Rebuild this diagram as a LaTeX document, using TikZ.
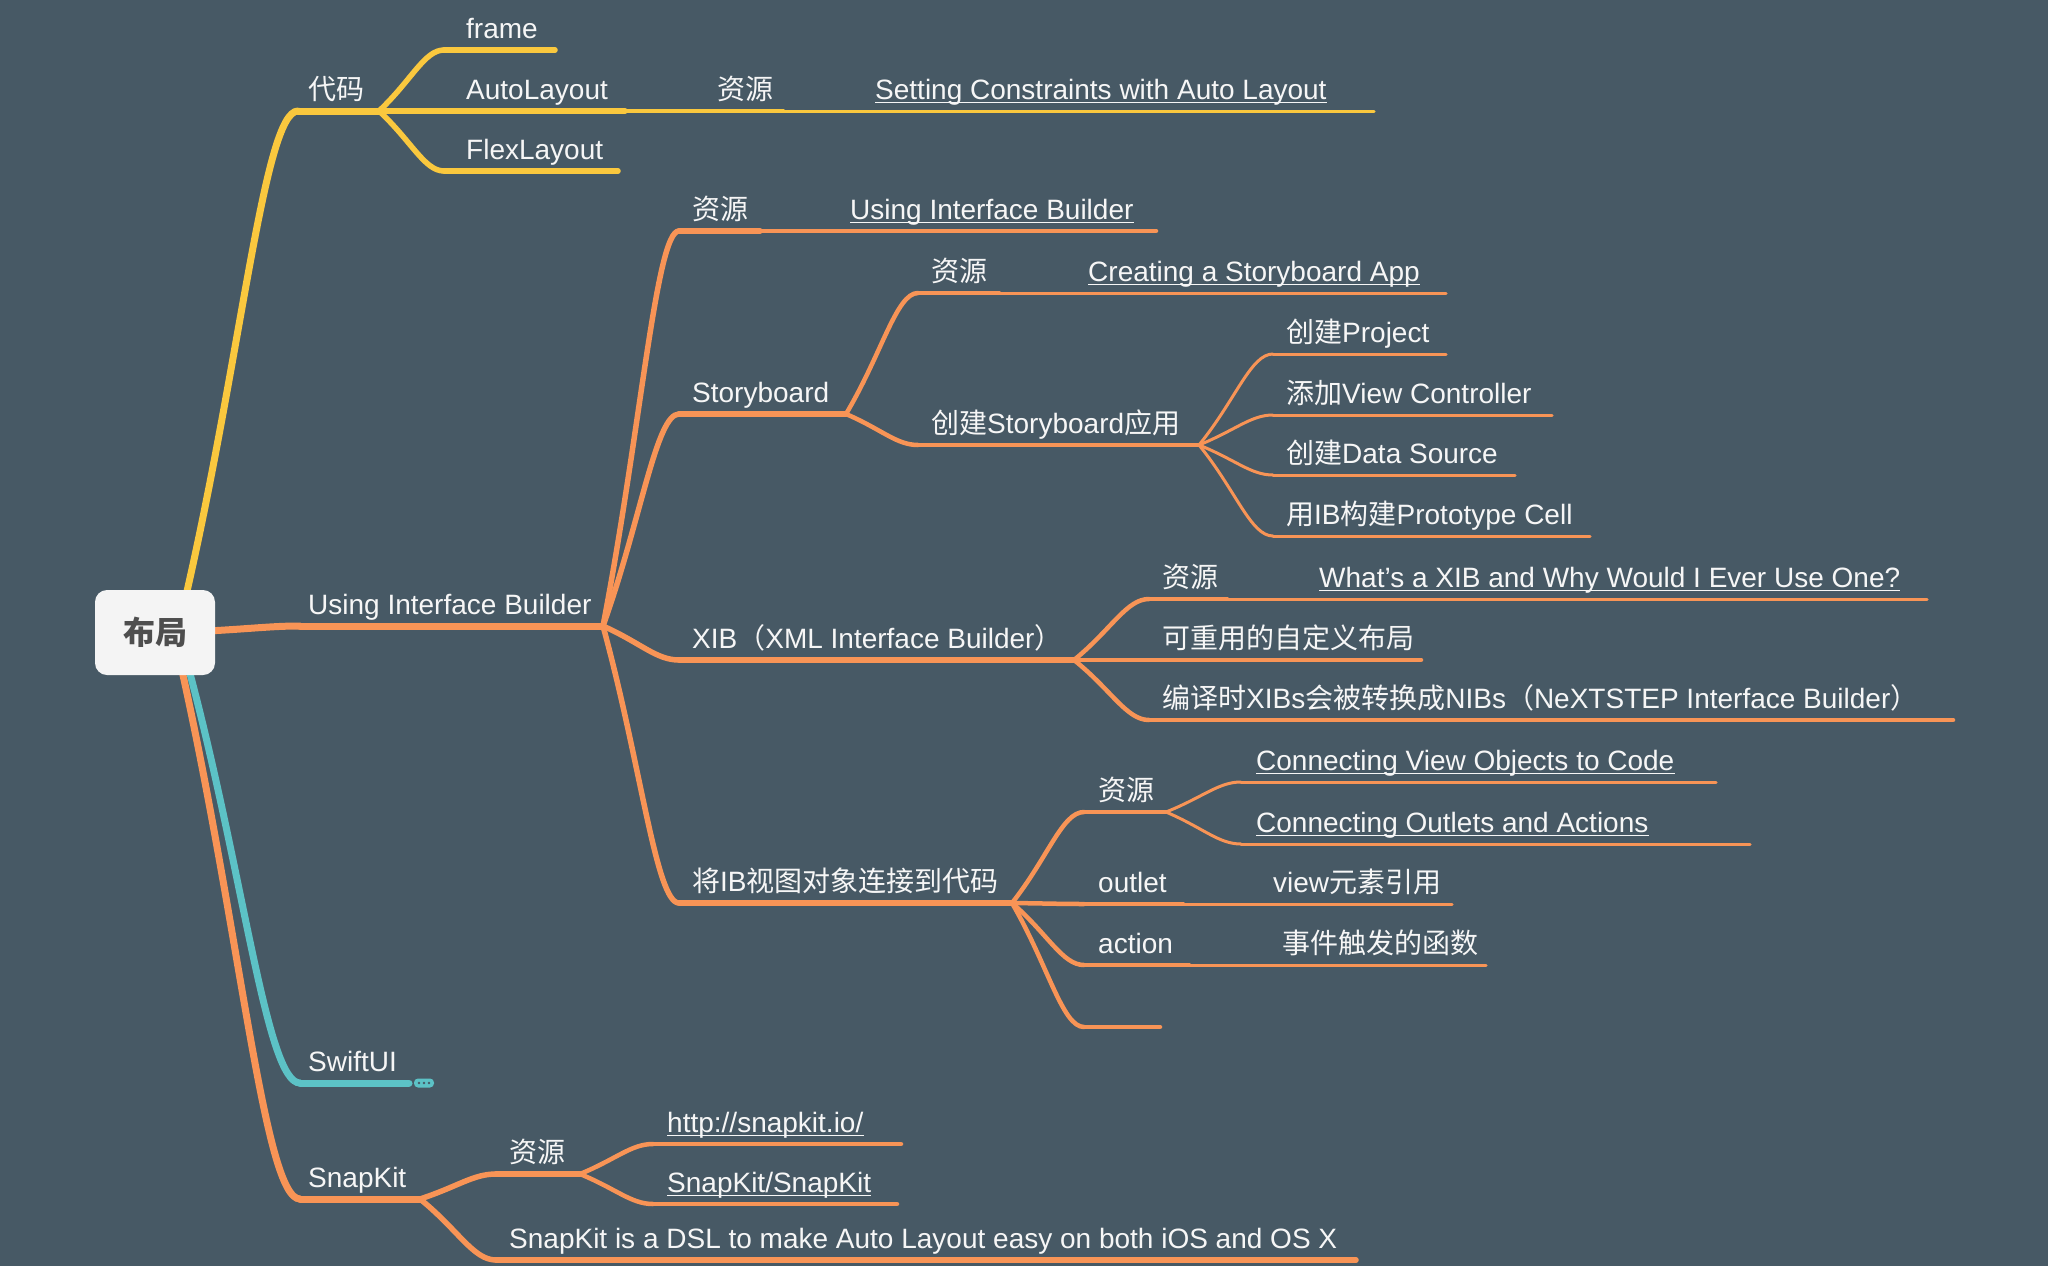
\documentclass[tikz,border=0pt]{standalone}
\usepackage{fontspec}
\setmainfont{Liberation Sans}
\newfontfamily\cjk{Noto Sans CJK SC}
\usetikzlibrary{calc}
\definecolor{bgc}{RGB}{71,89,101}
\definecolor{yel}{RGB}{250,200,62}
\definecolor{ora}{RGB}{248,148,86}
\definecolor{tea}{RGB}{92,194,198}
\definecolor{txt}{RGB}{246,246,246}
\definecolor{rootfill}{RGB}{244,244,244}
\definecolor{roottxt}{RGB}{78,78,78}
\newcommand\zh[1]{{\cjk #1}}
\newcommand\topic[7]{%
  \coordinate (#1S) at (#3,#5);
  \coordinate (#1E) at (#4,#5);
  \draw[#2] (#1S) -- (#1E);
  \node[lab] (#1) at (#6,#5-12) {#7};}
\newcommand\br[3]{\draw[#1] (#2) .. controls ($(#2)!0.5!(#3)$) and ($(#2 |- #3)!0.7!(#3)$) .. (#3);}
\newcommand\ulink[1]{\draw[ul] ([yshift=-3.5pt]#1.base west) -- ([yshift=-3.5pt]#1.base east);}
\begin{document}
\begin{tikzpicture}[x=1pt,y=-1pt,line cap=round,
  lab/.style={anchor=base west, inner sep=0pt, text=txt, font=\fontsize{28}{34}\selectfont},
  d1/.style={line width=7pt}, d2/.style={line width=5.5pt},
  d3/.style={line width=4.5pt}, d4/.style={line width=3pt},
  ybr/.style={draw=yel}, obr/.style={draw=ora}, tbr/.style={draw=tea},
  ul/.style={draw=txt, line width=1.3pt, line cap=butt}]
\useasboundingbox (0,0) rectangle (2048,1266);
\fill[bgc] (0,0) rectangle (2048,1266);

% ---------- yellow: code ----------
\topic{daima}{d1,ybr}{298}{379}{111}{308}{\zh{代码}}
\topic{frame}{d2,ybr}{444}{555}{50}{466}{frame}
\topic{auto}{d2,ybr}{444}{625}{111}{466}{AutoLayout}
\topic{autoR}{d3,ybr}{625}{783}{111}{717}{\zh{资源}}
\topic{autoL}{d4,ybr}{783}{1374}{111}{875}{Setting Constraints with Auto Layout}
\topic{flex}{d2,ybr}{444}{618}{171}{466}{FlexLayout}
\br{d2,ybr}{daimaE}{frameS}
\br{d2,ybr}{daimaE}{autoS}
\br{d2,ybr}{daimaE}{flexS}

% ---------- orange: Using Interface Builder ----------
\topic{uib}{d1,obr}{300}{603}{626}{308}{Using Interface Builder}
\topic{uibR}{d2,obr}{679}{760}{231}{692}{\zh{资源}}
\topic{uibL}{d3,obr}{760}{1156}{231}{850}{Using Interface Builder}
\topic{sb}{d2,obr}{679}{846}{414}{692}{Storyboard}
\topic{sbR}{d3,obr}{918}{999}{293}{931}{\zh{资源}}
\topic{sbL}{d4,obr}{999}{1446}{293}{1088}{Creating a Storyboard App}
\topic{sbC}{d3,obr}{918}{1199}{445}{931}{\zh{创建}Storyboard\zh{应用}}
\topic{pa}{d4,obr}{1273}{1446}{354}{1286}{\zh{创建}Project}
\topic{pb}{d4,obr}{1273}{1552}{415}{1286}{\zh{添加}View Controller}
\topic{pc}{d4,obr}{1273}{1515}{475}{1286}{\zh{创建}Data Source}
\topic{pd}{d4,obr}{1273}{1590}{536}{1286}{\zh{用}IB\zh{构建}Prototype Cell}
\topic{xib}{d2,obr}{679}{1074}{660}{692}{XIB\zh{（}XML Interface Builder\zh{）}}
\topic{xibR}{d3,obr}{1149}{1227}{599}{1162}{\zh{资源}}
\topic{xibL}{d4,obr}{1227}{1927}{599}{1319}{What’s a XIB and Why Would I Ever Use One?}
\topic{xibB}{d3,obr}{1149}{1421}{660}{1162}{\zh{可重用的自定义布局}}
\topic{xibC}{d3,obr}{1149}{1953}{720}{1162}{\zh{编译时}XIBs\zh{会被转换成}NIBs\zh{（}NeXTSTEP Interface Builder\zh{）}}
\topic{con}{d2,obr}{679}{1012}{903}{692}{\zh{将}IB\zh{视图对象连接到代码}}
\topic{conR}{d3,obr}{1084}{1166}{812}{1098}{\zh{资源}}
\topic{cv}{d4,obr}{1241}{1716}{782}{1256}{Connecting View Objects to Code}
\topic{co}{d4,obr}{1241}{1750}{844}{1256}{Connecting Outlets and Actions}
\topic{outl}{d3,obr}{1084}{1183}{904}{1098}{outlet}
\topic{outV}{d4,obr}{1183}{1452}{904}{1273}{view\zh{元素引用}}
\topic{act}{d3,obr}{1084}{1189}{965}{1098}{action}
\topic{actF}{d4,obr}{1189}{1486}{965}{1282}{\zh{事件触发的函数}}
\coordinate (empS) at (1084,1027);
\coordinate (empE) at (1160,1027);
\draw[d3,obr] (empS) -- (empE);
\br{d2,obr}{uibE}{uibRS}
\br{d2,obr}{uibE}{sbS}
\br{d2,obr}{uibE}{xibS}
\br{d2,obr}{uibE}{conS}
\br{d3,obr}{sbE}{sbRS}
\br{d3,obr}{sbE}{sbCS}
\br{d4,obr}{sbCE}{paS}
\br{d4,obr}{sbCE}{pbS}
\br{d4,obr}{sbCE}{pcS}
\br{d4,obr}{sbCE}{pdS}
\br{d3,obr}{xibE}{xibRS}
\br{d3,obr}{xibE}{xibBS}
\br{d3,obr}{xibE}{xibCS}
\br{d3,obr}{conE}{conRS}
\br{d3,obr}{conE}{outlS}
\br{d3,obr}{conE}{actS}
\br{d3,obr}{conE}{empS}
\br{d4,obr}{conRE}{cvS}
\br{d4,obr}{conRE}{coS}

% ---------- teal: SwiftUI ----------
\topic{swift}{d1,tbr}{300}{409}{1083}{308}{SwiftUI}
\node[fill=tea, rounded corners=4pt, minimum width=20pt, minimum height=9pt, inner sep=0pt] (more) at (424,1083) {};
\foreach \dx in {-5,0,5} \fill[bgc] ([xshift=\dx pt]more.center) circle (1.3pt);

% ---------- orange: SnapKit ----------
\topic{snap}{d1,obr}{300}{420}{1199}{308}{SnapKit}
\topic{snR}{d2,obr}{496}{580}{1174}{509}{\zh{资源}}
\topic{http}{d3,obr}{653}{901}{1144}{667}{http://snapkit.io/}
\topic{sk}{d3,obr}{653}{897}{1204}{667}{SnapKit/SnapKit}
\topic{dsl}{d2,obr}{496}{1356}{1260}{509}{SnapKit is a DSL to make Auto Layout easy on both iOS and OS X}
\br{d2,obr}{snapE}{snRS}
\br{d2,obr}{snapE}{dslS}
\br{d3,obr}{snRE}{httpS}
\br{d3,obr}{snRE}{skS}

% ---------- links underlined ----------
\ulink{autoL}\ulink{uibL}\ulink{sbL}\ulink{xibL}\ulink{cv}\ulink{co}\ulink{http}\ulink{sk}

% ---------- root ----------
\coordinate (rY) at (185,600);
\coordinate (rR) at (208,631);
\coordinate (rT) at (188,666);
\coordinate (rS) at (181,666);
\br{d1,ybr}{rY}{daimaS}
\br{d1,obr}{rR}{uibS}
\br{d1,obr}{rS}{snapS}
\br{d1,tbr}{rT}{swiftS}
\node[fill=rootfill, rounded corners=12pt, minimum width=120pt, minimum height=85pt, inner sep=0pt,
  text=roottxt, font=\cjk\bfseries\fontsize{32}{38}\selectfont] (root) at (155,632.5) {布局};
\end{tikzpicture}
\end{document}
